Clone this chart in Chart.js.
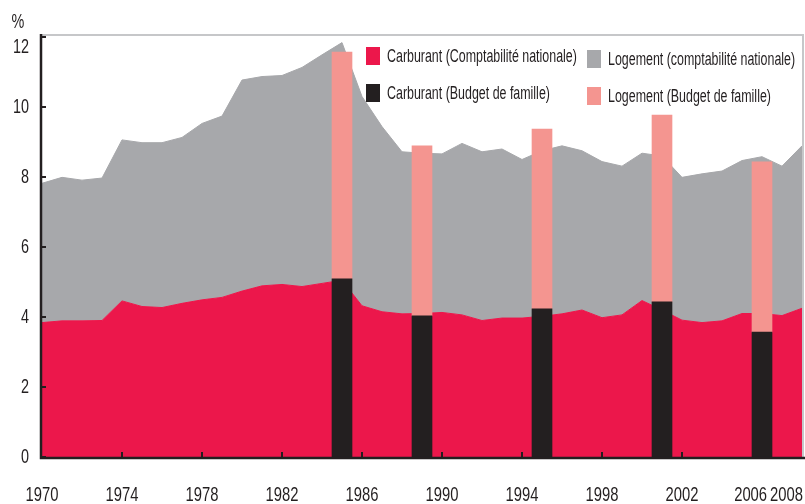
<!DOCTYPE html>
<html>
<head>
<meta charset="utf-8">
<script src="https://cdn.jsdelivr.net/npm/chart.js@4"></script>
<style>
  body { margin: 0; background: #fff; }
</style>
</head>
<body>
<canvas id="graf" width="805" height="504"></canvas>
<script>
// années (axe x)
const annees = ['1970','1971','1972','1973','1974','1975','1976','1977','1978','1979',
  '1980','1981','1982','1983','1984','1985','1986','1987','1988','1989',
  '1990','1991','1992','1993','1994','1995','1996','1997','1998','1999',
  '2000','2001','2002','2003','2004','2005','2006','2007','2008'];

// comptabilité nationale, en %
const carburantCN = [3.84, 3.89, 3.89, 3.90, 4.46, 4.30, 4.27, 4.39, 4.49, 4.56,
  4.74, 4.89, 4.93, 4.87, 4.96, 5.05, 4.32, 4.15, 4.09, 4.10,
  4.13, 4.06, 3.90, 3.97, 3.97, 4.02, 4.09, 4.20, 3.98, 4.06,
  4.47, 4.20, 3.91, 3.84, 3.89, 4.10, 4.10, 4.04, 4.25];
const logementCN = [3.98, 4.10, 4.02, 4.07, 4.60, 4.68, 4.71, 4.74, 5.04, 5.18,
  6.03, 5.98, 5.97, 6.26, 6.53, 6.79, 5.98, 5.29, 4.63, 4.58,
  4.53, 4.90, 4.82, 4.83, 4.53, 4.73, 4.80, 4.55, 4.46, 4.25,
  4.21, 4.40, 4.08, 4.25, 4.28, 4.37, 4.48, 4.27, 4.64];

// enquêtes Budget de famille
const anneesBF = ['1985', '1989', '1995', '2001', '2006'];
const carburantBF = [5.09, 4.03, 4.23, 4.43, 3.57];
const logementBF = [6.48, 4.86, 5.14, 5.34, 4.86];

// graduations
const ticksY = [0, 2, 4, 6, 8, 10, 12];
const etiquettesX = ['1970','1974','1978','1982','1986','1990','1994','1998','2002','2006','2008'];
const marquesX = ['1974','1978','1982','1986','1990','1994','1998','2002'];

const ROUGE = '#ec174b';
const GRIS = '#a7a8ab';
const NOIR = '#231f20';
const ROSE = '#f49590';
const POLICE = '"Liberation Sans", Arial, sans-serif';

function parAnnee(valeurs) {
  return annees.map(a => {
    let i = anneesBF.indexOf(a);
    return i >= 0 ? valeurs[i] : null;
  });
}

// texte condensé horizontalement (police étroite type Helvetica Condensed)
function texteEtroit(ctx, t, x, y, sx, align) {
  let w = ctx.measureText(t).width * sx;
  let x0 = align === 'right' ? x - w : align === 'center' ? x - w / 2 : x;
  ctx.save();
  ctx.translate(x0, y);
  ctx.scale(sx, 1);
  ctx.textAlign = 'left';
  ctx.fillText(t, 0, 0);
  ctx.restore();
  return w;
}

const legende = [
  { couleur: ROUGE, texte: 'Carburant (Comptabilité nationale)', x: 366, y: 47 },
  { couleur: NOIR,  texte: 'Carburant (Budget de famille)',      x: 366, y: 84 },
  { couleur: GRIS,  texte: 'Logement (comptabilité nationale)',  x: 587, y: 50 },
  { couleur: ROSE,  texte: 'Logement (Budget de famille)',       x: 587, y: 87 }
];

const habillage = {
  id: 'habillage',
  afterDatasetsDraw(chart) {
    const { ctx, chartArea: ca, scales: { x, y } } = chart;
    ctx.save();

    // cadre gris en haut et à droite
    ctx.strokeStyle = '#c6c7c9';
    ctx.lineWidth = 2;
    ctx.beginPath();
    ctx.moveTo(ca.left, ca.top - 2);
    ctx.lineTo(ca.right + 1, ca.top - 2);
    ctx.lineTo(ca.right + 1, ca.bottom);
    ctx.stroke();

    // axes noirs
    ctx.strokeStyle = NOIR;
    ctx.lineWidth = 2.5;
    ctx.beginPath();
    ctx.moveTo(ca.left - 1, ca.top - 3);
    ctx.lineTo(ca.left - 1, ca.bottom + 1);
    ctx.lineTo(ca.right + 3, ca.bottom + 1);
    ctx.stroke();

    // graduations y
    ctx.lineWidth = 2;
    ctx.fillStyle = NOIR;
    ctx.font = '20px ' + POLICE;
    ctx.textBaseline = 'middle';
    ticksY.forEach(v => {
      let py = y.getPixelForValue(v);
      ctx.beginPath();
      ctx.moveTo(ca.left - 1, py);
      ctx.lineTo(ca.left + 4, py);
      ctx.stroke();
      texteEtroit(ctx, String(v), ca.left - 13, Math.max(py, ca.top + 10), 0.72, 'right');
    });
    texteEtroit(ctx, '%', 18, 22, 0.72, 'center');

    // graduations x
    marquesX.forEach(a => {
      let px = x.getPixelForValue(annees.indexOf(a));
      ctx.beginPath();
      ctx.moveTo(px, ca.bottom);
      ctx.lineTo(px, ca.bottom - 5);
      ctx.stroke();
    });

    // étiquettes x, décalées vers la gauche si elles se chevauchent
    let bordDroit = chart.width - 2;
    for (let k = etiquettesX.length - 1; k >= 0; k--) {
      let t = etiquettesX[k];
      let w = ctx.measureText(t).width * 0.74;
      let px = x.getPixelForValue(annees.indexOf(t));
      if (px + w / 2 > bordDroit) px = bordDroit - w / 2;
      texteEtroit(ctx, t, px, 495, 0.74, 'center');
      bordDroit = px - w / 2 - 3;
    }

    // légende
    ctx.font = '18px ' + POLICE;
    legende.forEach(l => {
      ctx.fillStyle = l.couleur;
      ctx.fillRect(l.x, l.y, 14, 18);
      ctx.fillStyle = NOIR;
      texteEtroit(ctx, l.texte, l.x + 21, l.y + 10, 0.69, 'left');
    });

    ctx.restore();
  }
};

new Chart(document.getElementById('graf').getContext('2d'), {
  type: 'bar',
  data: {
    labels: annees,
    datasets: [
      {
        type: 'line', label: 'Carburant (Comptabilité nationale)', data: carburantCN,
        stack: 'cn', fill: 'origin', order: 1,
        backgroundColor: ROUGE, borderColor: ROUGE, borderWidth: 1, pointRadius: 0, tension: 0
      },
      {
        type: 'line', label: 'Logement (comptabilité nationale)', data: logementCN,
        stack: 'cn', fill: '-1', order: 1,
        backgroundColor: GRIS, borderColor: GRIS, borderWidth: 1, pointRadius: 0, tension: 0
      },
      {
        label: 'Carburant (Budget de famille)', data: parAnnee(carburantBF),
        stack: 'bf', order: 0, backgroundColor: NOIR,
        barPercentage: 1, categoryPercentage: 1
      },
      {
        label: 'Logement (Budget de famille)', data: parAnnee(logementBF),
        stack: 'bf', order: 0, backgroundColor: ROSE,
        barPercentage: 1, categoryPercentage: 1
      }
    ]
  },
  options: {
    responsive: false,
    animation: false,
    layout: { padding: { left: 42, right: 3, top: 37, bottom: 47 } },
    scales: {
      x: { type: 'category', offset: false, stacked: true, display: false },
      y: { stacked: true, min: 0, max: 12, display: false }
    },
    plugins: {
      legend: { display: false },
      tooltip: { enabled: false }
    }
  },
  plugins: [habillage]
});
</script>
</body>
</html>
